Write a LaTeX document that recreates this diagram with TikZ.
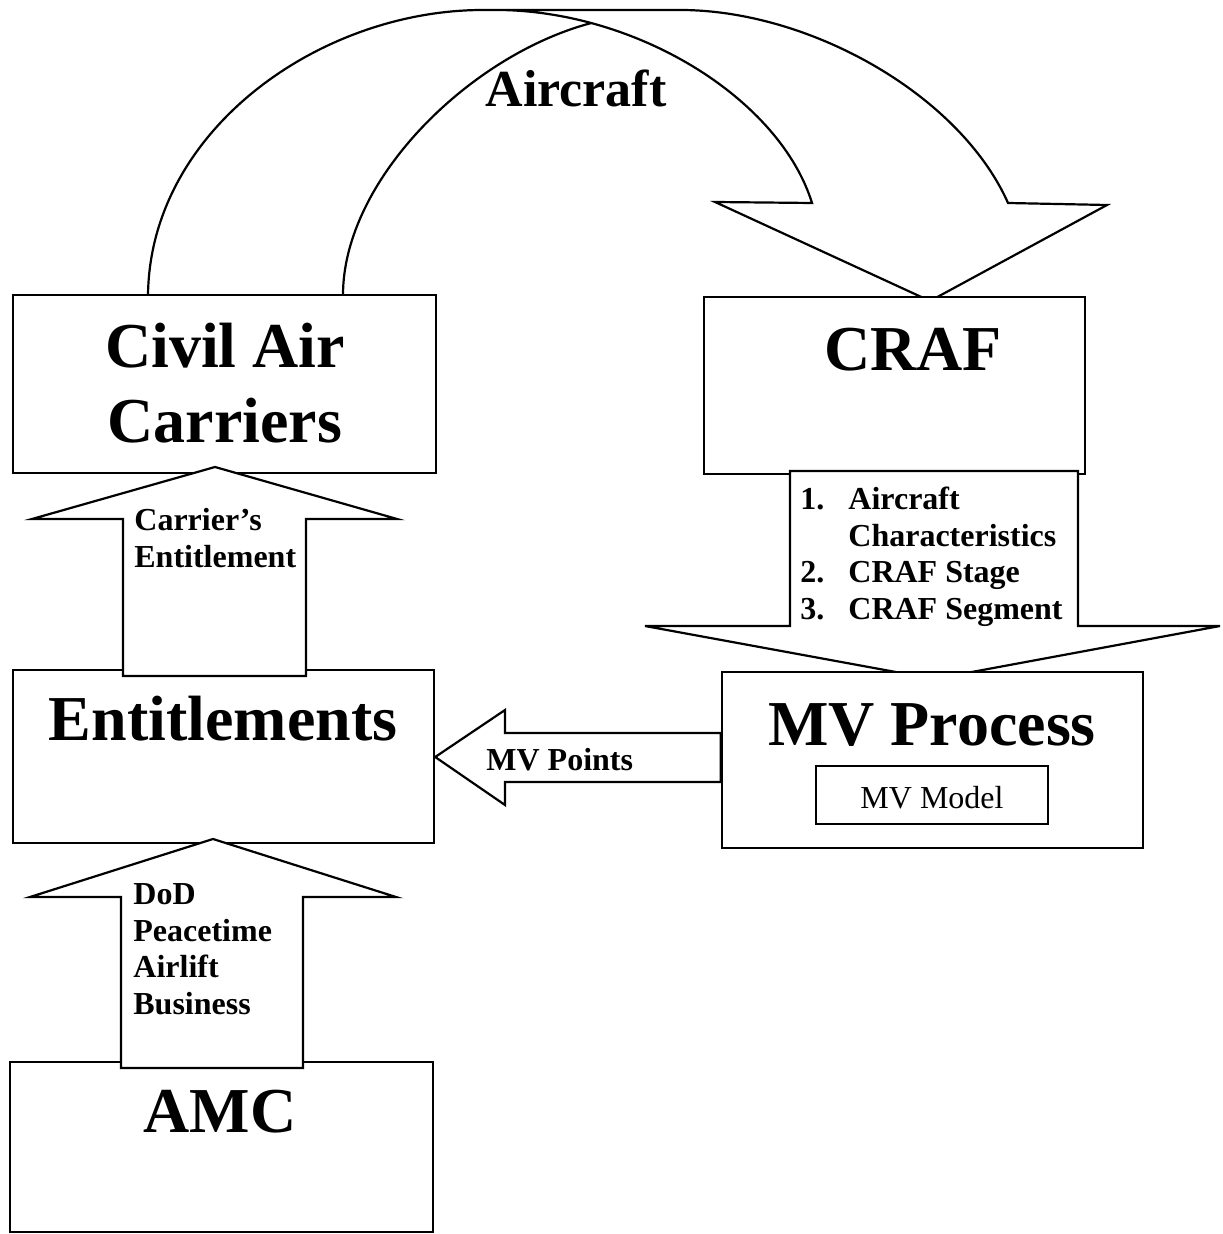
\documentclass[tikz,border=0pt]{standalone}
\usepackage{fontspec}
\setmainfont{Liberation Serif}
\tikzset{
    box/.style={draw, fill=white, line width=1.2pt, inner sep=0pt},
    blockarrow/.style={draw, fill=white, line width=1.1pt, line join=miter},
    bigtext/.style={font=\fontsize{32}{37.5}\selectfont\bfseries, inner sep=0pt, align=center},
    arctext/.style={font=\fontsize{26}{30}\selectfont\bfseries, inner sep=0pt},
    midtext/.style={font=\fontsize{16}{18.25}\selectfont\bfseries, inner sep=0pt, align=left},
    plaintext/.style={font=\fontsize{16}{18.25}\selectfont, inner sep=0pt}
}

\begin{document}
\begin{tikzpicture}[x=0.5pt, y=-0.5pt]
\useasboundingbox (0,0) rectangle (1222,1234);

% Curved arrow from the carriers to CRAF
\path (500,10) .. controls (640,12) and (780,100) .. coordinate[pos=0.22] (cross) (812,203);
\draw[blockarrow, fill=none] (148,295) .. controls (150,130) and (320,10) .. (483,10) -- (680,10)
    .. controls (810,10) and (960,95) .. (1008,203) -- (1107,205) -- (930,301) -- (715,202) -- (812,203)
    .. controls (780,100) and (640,12) .. (500,10);
\draw[blockarrow, fill=none] (343,295) .. controls (343,180) and (470,55) .. (cross);

% Boxes
\node[box, minimum width=211.5pt, minimum height=89pt] (civil) at (224.5,384) {};
\node[box, minimum width=190.5pt, minimum height=88.5pt] (craf) at (894.5,385.5) {};
\node[box, minimum width=210.5pt, minimum height=86.5pt] (ent) at (223.5,756.5) {};
\node[box, minimum width=211.5pt, minimum height=85pt] (amc) at (221.5,1147) {};

% Block arrows up the left side
\draw[blockarrow] (123,676) -- (123,519) -- (32,519) -- (215,467) -- (397,519) -- (306,519) -- (306,676) -- cycle;
\draw[blockarrow] (121,1068) -- (121,897) -- (30,897) -- (213,839) -- (396,897) -- (303,897) -- (303,1068) -- cycle;

% Block arrow from CRAF down to the MV process
\draw[blockarrow] (790,471) -- (790,626) -- (645,626) -- (934,679) -- (1220,626) -- (1078,626) -- (1078,471) -- cycle;

\node[box, minimum width=210.5pt, minimum height=88pt] (mv) at (932.5,760) {};
\node[box, minimum width=116pt, minimum height=29pt] (model) at (932,795) {};

% Block arrow from the MV process to the entitlements
\draw[blockarrow] (mv.west |- 0,733) -- (505,733) -- (505,710) -- (ent.east |- 0,757) -- (505,805) -- (505,782) -- (mv.west |- 0,782) -- cycle;

% Labels (base = last line)
\node[arctext, anchor=base] (aircraft) at (576,107) {Aircraft};
\node[bigtext, anchor=base] (civiltext) at (225,443) {Civil Air\\Carriers};
\node[bigtext, anchor=base] (craftext) at (913,371) {CRAF};
\node[bigtext, anchor=base] (enttext) at (223,740) {Entitlements};
\node[bigtext, anchor=base] (mvtext) at (932,745) {MV Process};
\node[bigtext, anchor=base] (amctext) at (220,1132) {AMC};
\node[plaintext, anchor=base] (modeltext) at (932,808) {MV Model};
\node[midtext, anchor=base west] (pointstext) at (486,770) {MV Points};
\node[midtext, anchor=base west] (carriertext) at (134,567) {Carrier’s\\Entitlement};
\node[midtext, anchor=base west] (dodtext) at (133,1014) {DoD\\Peacetime\\Airlift\\Business};
\node[midtext, anchor=base west] (listtext) at (800,619)
    {\makebox[24pt][l]{1.}Aircraft\\\hspace*{24pt}Characteristics\\\makebox[24pt][l]{2.}CRAF Stage\\\makebox[24pt][l]{3.}CRAF Segment};
\end{tikzpicture}
\end{document}
